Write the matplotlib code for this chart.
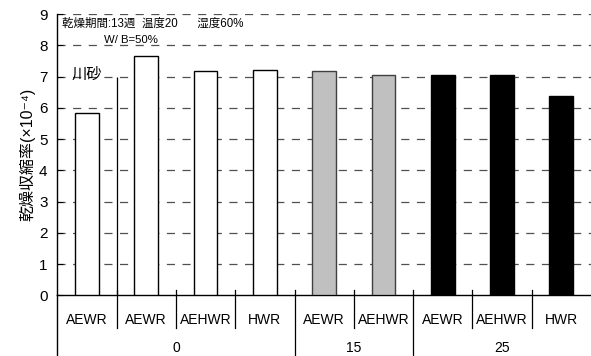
import matplotlib
matplotlib.use("Agg")
import matplotlib.pyplot as plt
from matplotlib.lines import Line2D

plt.rcParams["font.family"] = ["Liberation Sans", "Noto Sans CJK JP", "DejaVu Sans"]

# data
labels = ["AEWR", "AEWR", "AEHWR", "HWR", "AEWR", "AEHWR", "AEWR", "AEHWR", "HWR"]
values = [5.85, 7.66, 7.17, 7.20, 7.17, 7.06, 7.06, 7.06, 6.38]
groups = ["0", "15", "25"]
group_sizes = [4, 2, 3]
group_colors = ["white", "#c0c0c0", "black"]
yticks = list(range(0, 10))

fig = plt.figure(figsize=(5.91, 3.56), dpi=100)
ax = fig.add_axes([0.097, 0.170, 0.903, 0.790])

colors = []
for c, n in zip(group_colors, group_sizes):
    colors += [c] * n
edges = ["black" if c != "#c0c0c0" else "#404040" for c in colors]
x = list(range(len(values)))
ax.bar(x, values, width=0.4, color=colors, edgecolor=edges, linewidth=1.0, zorder=3)

ax.set_xlim(-0.5, len(values) - 0.5)
ax.set_ylim(0, 9)
ax.set_yticks(yticks)
ax.tick_params(axis="y", direction="in", length=4, labelsize=11, pad=7)
ax.set_xticks([])
for gy in yticks[1:]:
    ax.axhline(gy, color="#505050", lw=0.9, dashes=(6.5, 6), zorder=1)
for s in ["top", "right"]:
    ax.spines[s].set_visible(False)
ax.spines["left"].set_linewidth(1.0)
ax.spines["bottom"].set_linewidth(1.0)

# stray separator line inside the plot
ax.vlines(0.5, 0, 7, color="black", lw=0.9, zorder=2)

ax.set_ylabel("乾燥収縮率(×10⁻⁴)", fontsize=11.5, labelpad=3)

ax.text(-0.42, 8.68, "乾燥期間:13週  温度20      湿度60%", fontsize=8.3, va="center")
ax.text(0.29, 8.17, "W/ B=50%", fontsize=8.2, va="center")
ax.text(-0.26, 7.05, "川砂", fontsize=11, va="center")

# two-level category axis
trans = ax.get_xaxis_transform()
for i, lab in enumerate(labels):
    ax.text(i, -0.088, lab, transform=trans, ha="center", va="center", fontsize=10)

bounds = [0]
for n in group_sizes:
    bounds.append(bounds[-1] + n)
for b in range(1, len(values)):
    xb = b - 0.5
    if b in bounds:
        y_end = -0.215
    else:
        y_end = -0.115
    ax.add_line(Line2D([xb, xb], [0.018, y_end], transform=trans, color="black",
                       lw=0.9, clip_on=False))
ax.add_line(Line2D([-0.5, -0.5], [0, -0.215], transform=trans, color="black",
                   lw=1.0, clip_on=False))
for g, lo, hi in zip(groups, bounds[:-1], bounds[1:]):
    ax.text((lo + hi - 1) / 2, -0.186, g, transform=trans, ha="center", va="center",
            fontsize=10)

fig.savefig("out.png", dpi=100)
